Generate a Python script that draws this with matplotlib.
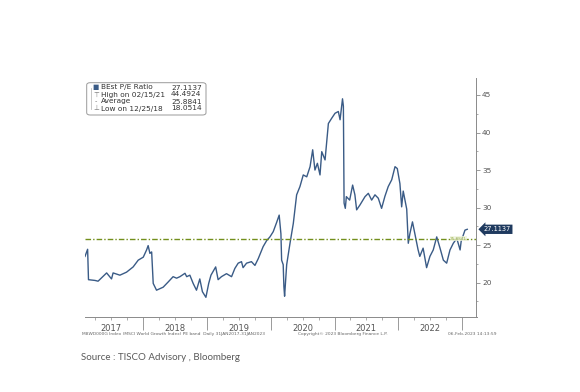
import matplotlib
matplotlib.use("Agg")
import matplotlib.pyplot as plt
import matplotlib.dates as mdates
from matplotlib.ticker import MultipleLocator, NullFormatter
from matplotlib.patches import FancyBboxPatch
from matplotlib.lines import Line2D
import pandas as pd

# MSCI World Growth Index, BEst P/E ratio
dates = [
    "2017-01-31", "2017-02-15", "2017-02-20", "2017-03-29", "2017-04-16", "2017-06-04", "2017-07-02",
    "2017-07-11", "2017-08-19", "2017-09-26", "2017-11-03", "2017-12-02", "2017-12-31",
    "2018-01-19", "2018-01-28", "2018-02-07", "2018-02-17", "2018-02-26", "2018-03-17", "2018-04-05",
    "2018-04-24", "2018-05-23", "2018-06-20", "2018-07-10", "2018-07-29", "2018-08-27", "2018-09-06",
    "2018-09-24", "2018-10-13", "2018-11-01", "2018-11-20", "2018-12-05", "2018-12-25",
    "2019-01-10", "2019-01-23", "2019-02-19", "2019-03-05", "2019-03-24", "2019-04-22", "2019-05-21",
    "2019-06-09", "2019-06-28", "2019-07-17", "2019-07-26", "2019-08-15", "2019-09-12", "2019-10-02",
    "2019-10-21", "2019-11-18", "2019-12-08", "2019-12-27",
    "2020-01-15", "2020-02-03", "2020-02-18", "2020-02-28", "2020-03-03", "2020-03-12", "2020-03-16",
    "2020-03-20", "2020-04-01", "2020-04-20", "2020-05-09", "2020-05-28", "2020-06-16", "2020-07-05",
    "2020-07-25", "2020-08-13", "2020-08-28", "2020-09-10", "2020-09-24", "2020-10-09", "2020-10-19",
    "2020-11-07", "2020-11-26", "2020-12-15",
    "2021-01-03", "2021-01-22", "2021-02-01", "2021-02-15", "2021-02-20", "2021-02-24", "2021-03-03",
    "2021-03-09", "2021-03-28", "2021-04-14", "2021-04-27", "2021-05-07", "2021-05-26", "2021-06-24",
    "2021-07-13", "2021-08-01", "2021-08-20", "2021-09-08", "2021-09-27", "2021-10-16", "2021-11-04",
    "2021-11-24", "2021-12-13", "2021-12-26",
    "2022-01-10", "2022-01-20", "2022-01-29", "2022-02-18", "2022-02-27", "2022-03-08", "2022-03-23",
    "2022-04-05", "2022-04-24", "2022-05-04", "2022-05-23", "2022-06-12", "2022-07-01", "2022-07-20",
    "2022-08-09", "2022-08-28", "2022-09-16", "2022-10-05", "2022-10-24", "2022-11-12", "2022-12-02",
    "2022-12-21", "2022-12-27",
    "2023-01-18", "2023-01-31",
]
pe = [
    23.5, 24.45, 20.4, 20.3, 20.2, 21.3, 20.5, 21.3, 21.0, 21.4, 22.1, 23.0, 23.4,
    24.36, 24.94, 23.9, 24.1, 19.9, 19.0, 19.2, 19.4, 20.1, 20.8, 20.6, 20.8, 21.25, 20.8, 21.0,
    19.9, 19.0, 20.5, 18.8, 18.05,
    19.9, 21.0, 22.1, 20.4, 20.8, 21.2, 20.8, 21.9, 22.6, 22.8, 22.0, 22.6, 22.8, 22.3, 23.2,
    24.8, 25.6, 26.1,
    26.8, 28.0, 29.0, 26.5, 23.0, 22.4, 19.5, 18.2, 22.4, 25.25, 27.9, 31.7, 32.8, 34.35, 34.1,
    35.45, 37.7, 35.0, 35.9, 34.35, 37.45, 36.35, 41.2, 41.9,
    42.56, 42.8, 41.7, 44.49, 43.5, 30.6, 29.9, 31.46, 31.0, 33.0, 31.7, 29.7, 30.35, 31.46,
    31.9, 31.0, 31.7, 31.25, 29.9, 31.5, 32.8, 33.7, 35.45, 35.2,
    33.2, 30.1, 32.2, 29.8, 25.25, 26.5, 28.1, 26.6, 24.4, 23.5, 24.6, 22.0, 23.5, 24.36,
    26.1, 24.6, 23.0, 22.6, 24.36, 25.25, 25.9, 24.36, 25.5,
    27.0, 27.11,
]
average = 25.8841
last_value = "27.1137"
years = [2017, 2018, 2019, 2020, 2021, 2022]
yticks = [20, 25, 30, 35, 40, 45]
legend_rows = [
    ("BEst P/E Ratio", "27.1137"),
    ("High on 02/15/21", "44.4924"),
    ("Average", "25.8841"),
    ("Low on 12/25/18", "18.0514"),
]

W, H = 580, 392


def fx(px):
    return px / W


def fy(py):
    return 1 - py / H


navy = "#3a5b86"
olive = "#738f1c"
grey = "#555555"

fig = plt.figure(figsize=(5.8, 3.92), dpi=100)
ax = fig.add_axes([fx(85), fy(317.3), fx(476.5) - fx(85), fy(78) - fy(317.3)])

x = pd.to_datetime(dates)
ax.plot(x, pe, color=navy, lw=1.0)
ax.axhline(average, color=olive, lw=1.0, ls=(0, (4, 1.5, 1, 1.5)))

ax.set_xlim(pd.Timestamp("2017-01-31"), pd.Timestamp("2023-03-25"))
ax.set_ylim(15.39, 47.26)

for s in ["left", "top"]:
    ax.spines[s].set_visible(False)
for s in ["right", "bottom"]:
    ax.spines[s].set_color("#8a8a8a")
    ax.spines[s].set_linewidth(0.7)

# y axis on the right
ax.yaxis.tick_right()
ax.set_yticks(yticks)
ax.yaxis.set_minor_locator(MultipleLocator(2.5))
ax.tick_params(axis="y", which="major", direction="out", length=3, width=0.6,
               colors="#8a8a8a", labelcolor=grey, labelsize=5.3, pad=1)
ax.tick_params(axis="y", which="minor", direction="out", length=1.5, width=0.5, colors="#8a8a8a")

# x axis: year dividers + quarter ticks, labels centred in each year
ax.xaxis.set_major_locator(mdates.YearLocator())
ax.xaxis.set_minor_locator(mdates.MonthLocator((4, 7, 10)))
ax.xaxis.set_major_formatter(NullFormatter())
ax.xaxis.set_minor_formatter(NullFormatter())
ax.tick_params(axis="x", which="major", direction="out", length=9, width=0.6, colors="#8a8a8a")
ax.tick_params(axis="x", which="minor", direction="out", length=2.5, width=0.5, colors="#8a8a8a")
for yr in years:
    ax.text(pd.Timestamp(f"{yr}-07-01"), -0.046, str(yr), transform=ax.get_xaxis_transform(),
            ha="center", va="center", fontsize=6, color=grey)

# last value tag and average tag
ax.text(1.018, float(pe[-1]), last_value, transform=ax.get_yaxis_transform(), color="white",
        fontsize=4.8, ha="left", va="center", clip_on=False,
        bbox=dict(boxstyle="larrow,pad=0.25", fc="#1f3a5f", ec="none"))
ax.text(pd.Timestamp("2022-12-12"), average, "25.8841", fontsize=3, color="#9ab04a",
        ha="center", va="center",
        bbox=dict(boxstyle="square,pad=0.1", fc="#eef3dc", ec="none", alpha=0.8))

# legend box
frame = FancyBboxPatch((fx(86.7), fy(115)), fx(206) - fx(86.7), fy(82.7) - fy(115),
                       boxstyle="round,pad=0,rounding_size=0.006", transform=fig.transFigure,
                       fc="white", ec="#9a9a9a", lw=0.7)
fig.add_artist(frame)
row_y = [87.5, 94.5, 101.5, 108.5]
symbols = ["\u25a0", "\u22a4", "-", "\u22a5"]
fig.add_artist(Line2D([fx(91), fx(91)], [fy(87.5), fy(108.5)], transform=fig.transFigure,
                      color="#b0b0b0", lw=0.5))
for (lab, val), ry, sym in zip(legend_rows, row_y, symbols):
    fig.text(fx(96), fy(ry), sym, fontsize=4.8, color=navy if sym == "\u25a0" else "#777777",
             ha="center", va="center")
    fig.text(fx(101), fy(ry), lab, fontsize=5.3, color="#333333", ha="left", va="center")
    fig.text(fx(171), fy(ry), val, fontsize=5.3, color="#333333", ha="left", va="center")

# Bloomberg footer
foot = dict(fontsize=3.2, color="#666666", va="center")
fig.text(fx(82), fy(334), "M8WD000G Index (MSCI World Growth Index) PE band  Daily 31JAN2017-31JAN2023", **foot)
fig.text(fx(298), fy(334), "Copyright\u00a9 2023 Bloomberg Finance L.P.", **foot)
fig.text(fx(448), fy(334), "06-Feb-2023 14:13:59", **foot)

fig.text(fx(81), fy(357), "Source : TISCO Advisory , Bloomberg", fontsize=7, color="#595959",
         family=["Lato", "DejaVu Sans"], va="center")

fig.savefig("out.png", dpi=100, facecolor="white")
